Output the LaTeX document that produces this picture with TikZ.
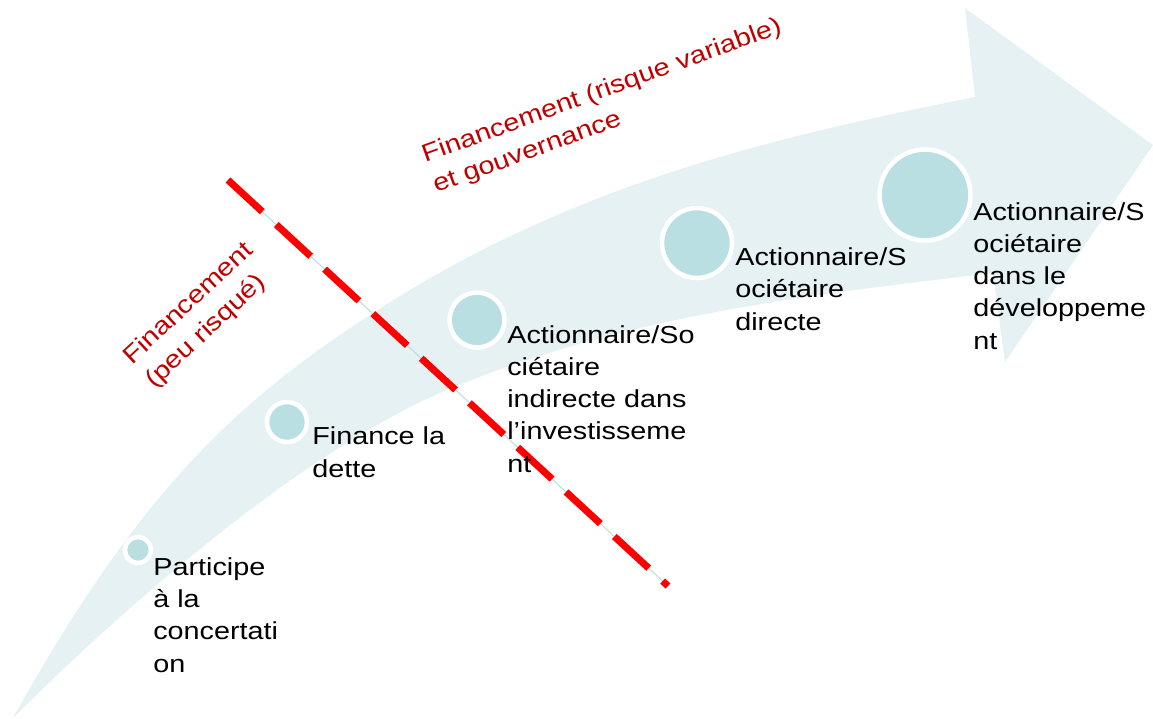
\documentclass[tikz,border=0pt]{standalone}
\usepackage{fontspec}
\setmainfont{Liberation Sans}[FakeStretch=1.17]
\definecolor{bandfill}{HTML}{E5F1F3}
\definecolor{stagefill}{HTML}{B9DFE3}
\definecolor{labelred}{HTML}{C00000}
\definecolor{cutred}{HTML}{FF0000}
\tikzset{
   stage/.style={circle, fill=stagefill, draw=white, line width=2.6pt, inner sep=0pt, minimum size=#1},
   stagetext/.style={anchor=base west, align=left, inner sep=0pt, font=\fontsize{14}{18.3}\selectfont},
   phase/.style={anchor=base west, align=left, inner sep=0pt, text=labelred, font=\fontsize{14}{18.3}\selectfont},
}
\begin{document}
\begin{tikzpicture}[x=0.02cm, y=-0.02cm]
   \useasboundingbox (0,0) rectangle (1153,718);

   \fill [bandfill] (13,718) .. controls (143,484) and (243,397.5) .. (373,313)
      .. controls (573,183) and (775,137) .. (975,97)
      -- (965,8) -- (1153,145) -- (1005,362) -- (993,273)
      .. controls (813,294.6) and (627,314.4) .. (447,390)
      .. controls (307,448.8) and (133,598) .. (13,718) -- cycle;

   \coordinate (CutTop) at (228,180);
   \coordinate (CutBottom) at (668,586);
   \draw [stagefill, line width=0.6pt] (CutTop) -- (CutBottom);
   \draw [cutred, line width=4pt, dash pattern=on 26.6pt off 10.8pt] (CutTop) -- (CutBottom);

   \node (Concertation) at (138,550) [stage=0.52cm] {};
   \node (Dette) at (287,422) [stage=0.8cm] {};
   \node (Indirecte) at (477,320) [stage=1.1cm] {};
   \node (Directe) at (697,243) [stage=1.4cm] {};
   \node (Developpement) at (925,195) [stage=1.82cm] {};

   \node (ConcertationText) at (153,672) [stagetext] {Participe\\à la\\concertati\\on};
   \node (DetteText) at (312,477) [stagetext] {Finance la\\dette};
   \node (IndirecteText) at (507,472) [stagetext] {Actionnaire/So\\ciétaire\\indirecte dans\\l’investisseme\\nt};
   \node (DirecteText) at (735,330) [stagetext] {Actionnaire/S\\ociétaire\\directe};
   \node (DeveloppementText) at (973,349) [stagetext] {Actionnaire/S\\ociétaire\\dans le\\développeme\\nt};

   \node (PeuRisque) at (154,389) [phase, rotate=43] {Financement\\(peu risqué)};
   \node (RisqueVariable) at (436,193) [phase, rotate=20] {Financement (risque variable)\\et gouvernance};

\end{tikzpicture}
\end{document}
